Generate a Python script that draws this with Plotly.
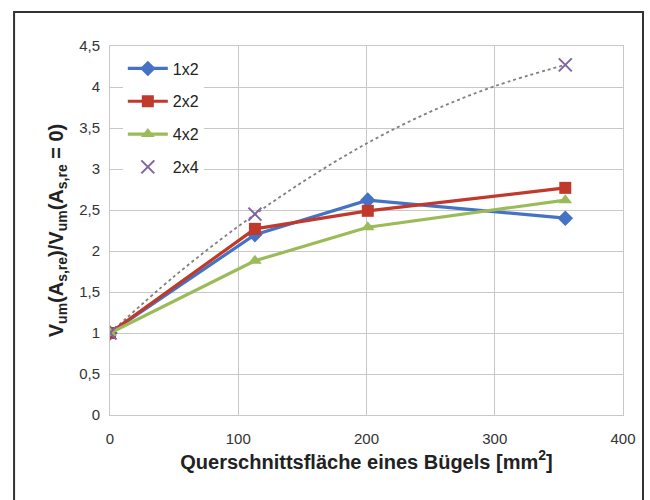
import plotly.graph_objects as go

# Data
x_vals = [0, 113, 201, 355]
y_1x2 = [1.0, 2.20, 2.62, 2.40]
y_2x2 = [1.0, 2.27, 2.49, 2.77]
y_4x2 = [1.0, 1.88, 2.29, 2.62]
x_2x4 = [0, 113, 355]
y_2x4 = [1.0, 2.45, 4.27]
# dotted trend curve
trend_x = [0, 50, 100, 150, 200, 250, 300, 355]
trend_y = [1.0, 1.69, 2.30, 2.84, 3.31, 3.70, 4.01, 4.27]

x_ticks = [0, 100, 200, 300, 400]
y_ticks = [0, 0.5, 1, 1.5, 2, 2.5, 3, 3.5, 4, 4.5]
y_ticklabels = ["0", "0,5", "1", "1,5", "2", "2,5", "3", "3,5", "4", "4,5"]

fig = go.Figure()

fig.add_trace(go.Scatter(
    x=trend_x, y=trend_y, mode="lines", line=dict(color="#7f7f7f", width=1.8, dash="dot", shape="spline"),
    showlegend=False, hoverinfo="skip"))

fig.add_trace(go.Scatter(
    x=x_vals, y=y_1x2, mode="lines+markers", name="1x2", legendgroup="a",
    line=dict(color="#4472C4", width=3.2), marker=dict(symbol="diamond", size=12, color="#4472C4")))
fig.add_trace(go.Scatter(
    x=x_vals, y=y_2x2, mode="lines+markers", name="2x2", legendgroup="b",
    line=dict(color="#C0392B", width=3.2), marker=dict(symbol="square", size=12, color="#C0392B")))
fig.add_trace(go.Scatter(
    x=x_vals, y=y_4x2, mode="lines+markers", name="4x2", legendgroup="c",
    line=dict(color="#9BBB59", width=3.2), marker=dict(symbol="triangle-up", size=12, color="#9BBB59")))
fig.add_trace(go.Scatter(
    x=x_2x4, y=y_2x4, mode="markers", name="2x4", legendgroup="d",
    marker=dict(symbol="x-thin", size=13, line=dict(color="#8064A2", width=2), color="#8064A2")))

fig.update_layout(
    width=650, height=500,
    margin=dict(l=110, r=27, t=46, b=85),
    paper_bgcolor="white", plot_bgcolor="white",
    font=dict(family="Liberation Sans, Arial, sans-serif", color="#333333", size=15),
    legend=dict(x=0.025, y=0.985, xanchor="left", yanchor="top", bgcolor="white",
                font=dict(size=16, color="#222222"), tracegroupgap=9, itemwidth=40),
    showlegend=True,
)

fig.update_xaxes(
    range=[0, 400], tickvals=x_ticks, ticktext=[str(v) for v in x_ticks],
    showgrid=True, gridcolor="#c8c8c8", gridwidth=1,
    showline=True, linecolor="#c8c8c8", linewidth=1, mirror=True,
    zeroline=False, ticks="", ticklabelstandoff=10, tickfont=dict(size=15, color="#333333"),
    title=dict(text="<b>Querschnittsfläche eines Bügels [mm<sup>2</sup>]</b>", font=dict(size=20, color="#222222"), standoff=8),
)
fig.update_yaxes(
    range=[0, 4.5], tickvals=y_ticks, ticktext=y_ticklabels,
    showgrid=True, gridcolor="#c8c8c8", gridwidth=1,
    showline=True, linecolor="#c8c8c8", linewidth=1, mirror=True,
    zeroline=False, ticks="", ticklabelstandoff=6, tickfont=dict(size=15, color="#333333"),
    title=dict(text="<b>V<sub>um</sub>(A<sub>s,re</sub>)/V<sub>um</sub>(A<sub>s,re</sub> = 0)</b>", font=dict(size=20, color="#222222"), standoff=10),
)

# outer frame
fig.add_shape(type="rect", xref="paper", yref="paper",
              x0=-0.187, x1=1.039, y0=-0.26, y1=1.092,
              line=dict(color="#333333", width=2), fillcolor="rgba(0,0,0,0)", layer="above")

fig.write_html("out.html")
